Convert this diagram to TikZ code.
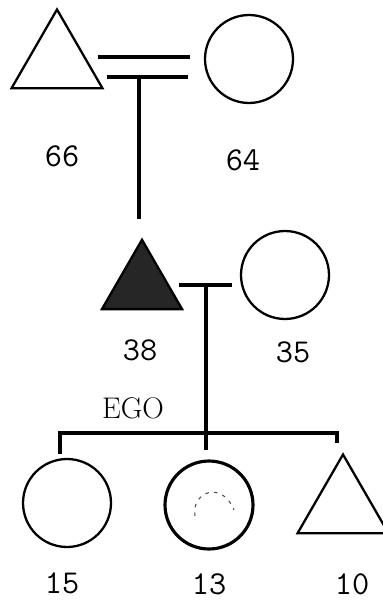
\documentclass[tikz,border=0pt]{standalone}
\usepackage{tikz}
\usetikzlibrary{shapes.geometric,calc}

\begin{document}
\begin{tikzpicture}[x=0.02cm, y=-0.02cm, line width=1.3pt,
  male/.style={draw, regular polygon, regular polygon sides=3, minimum size=21mm, inner sep=0pt},
  female/.style={draw, circle, minimum size=17.6mm, inner sep=0pt},
  age/.style={font=\ttfamily\fontsize{19}{22}\selectfont},
  link/.style={line width=1.9pt}]
\useasboundingbox (0,0) rectangle (382,601);

% grandparents
\node[male] (gf) at (57,62) {};
\node[female] (gm) at (249,59) {};
\node[age] (a66) at (62,156) {66};
\node[age] (a64) at (243,160) {64};
\draw[link] ($(gf.east)+(9,-5)$) -- ($(gm.west)+(-14,-2)$);
\draw[link] ($(gf.east)+(18,15)$) -- ($(gm.west)+(-16,18)$);
\coordinate (gdrop) at (139,77);
\coordinate (gdesc) at (139,219);
\draw[link] (gdrop) -- (gdesc);

% parents
\node[male,fill=black!85,minimum size=18.5mm] (f38) at (142,286) {};
\node[female] (m35) at (285,275) {};
\node[age] (a38) at (140,350) {38};
\node[age] (a35) at (293,352) {35};
\node[font=\fontsize{17}{19}\selectfont] (ego) at (133,408) {EGO};
\draw[link] ($(f38.east)+(9,-1)$) -- ($(m35.west)+(-8,10)$);
\coordinate (pdrop) at (206,285);
\coordinate (sib) at (206,433);

% children
\node[female] (c15) at (67,503) {};
\node[female,line width=1.8pt] (d13) at (209,505) {};
\node[male] (s10) at (343,507) {};
\node[age] (a15) at (62,583) {15};
\node[age] (a13) at (209,584) {13};
\node[age] (a10) at (352,584) {10};
\draw[line width=0.6pt, dash pattern=on 2pt off 3pt, black!70]
  (195,516) .. controls (191,492) and (222,480) .. (234,510);

\draw[link] (pdrop) -- ($(d13.north)+(-3,-9)$);
\draw[link] ($(c15.north)+(-7,-4)$) |- (sib) -| ($(s10.north)+(-6,-9)$);
\end{tikzpicture}
\end{document}
